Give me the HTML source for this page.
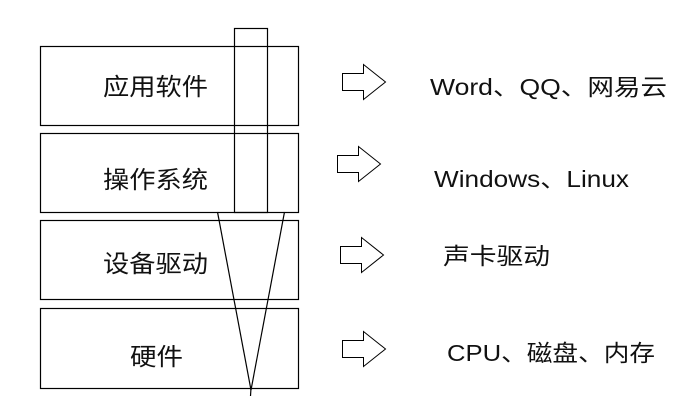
<!DOCTYPE html>
<html><head><meta charset="utf-8"><style>
html,body{margin:0;padding:0;background:#fff;width:679px;height:409px;overflow:hidden}
text{font-family:"Liberation Sans","Noto Sans CJK SC",sans-serif;fill:#111}
</style></head><body>
<svg width="679" height="409" viewBox="0 0 679 409" xmlns="http://www.w3.org/2000/svg">
<g fill="none" stroke="#000" stroke-width="1.2">
<rect x="40.5" y="46.5" width="258" height="79"/>
<rect x="40.5" y="133.5" width="258" height="79"/>
<rect x="40.5" y="220.5" width="258" height="79"/>
<rect x="40.5" y="308.5" width="258" height="80"/>
<rect x="234.5" y="28.5" width="33" height="184"/>
<line x1="217.5" y1="212" x2="251" y2="390"/>
<line x1="284.5" y1="212" x2="251" y2="390"/>
<line x1="251" y1="388" x2="250.5" y2="396"/>
<g stroke-width="1">
<polygon points="342.5,73.5 363.5,73.5 363.5,64.5 385.5,82 363.5,99.5 363.5,90.5 342.5,90.5"/>
<polygon points="337.5,155.5 358.5,155.5 358.5,146.5 380.5,164 358.5,181.5 358.5,172.5 337.5,172.5"/>
<polygon points="340.5,246.5 361.5,246.5 361.5,237.5 383.5,255 361.5,272.5 361.5,263.5 340.5,263.5"/>
<polygon points="342.5,340.5 363.5,340.5 363.5,331.5 385.5,349 363.5,366.5 363.5,357.5 342.5,357.5"/>
</g>
</g>
<g font-size="24">
<text x="103" y="95" textLength="105" lengthAdjust="spacingAndGlyphs">应用软件</text>
<text x="103" y="188" textLength="105" lengthAdjust="spacingAndGlyphs">操作系统</text>
<text x="103" y="272" textLength="105" lengthAdjust="spacingAndGlyphs">设备驱动</text>
<text x="130" y="365" textLength="53" lengthAdjust="spacingAndGlyphs">硬件</text>
</g>
<g font-size="23">
<text x="430" y="95" textLength="237" lengthAdjust="spacingAndGlyphs">Word、QQ、网易云</text>
<text x="434" y="187" textLength="195" lengthAdjust="spacingAndGlyphs">Windows、Linux</text>
<text x="443" y="264" textLength="107" lengthAdjust="spacingAndGlyphs">声卡驱动</text>
<text x="447" y="361" textLength="208" lengthAdjust="spacingAndGlyphs">CPU、磁盘、内存</text>
</g>
</svg>
</body></html>
